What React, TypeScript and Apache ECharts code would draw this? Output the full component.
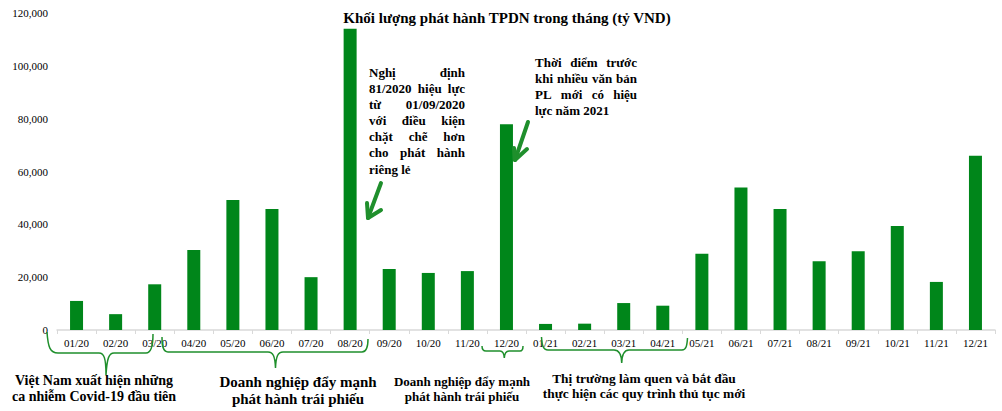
import React, { useEffect, useRef } from "react";
import * as echarts from "echarts";

const categories = [
  "01/20", "02/20", "03/20", "04/20", "05/20", "06/20", "07/20", "08/20", "09/20", "10/20", "11/20", "12/20",
  "01/21", "02/21", "03/21", "04/21", "05/21", "06/21", "07/21", "08/21", "09/21", "10/21", "11/21", "12/21",
];
const issuance = [
  11000, 6000, 17300, 30300, 49200, 45800, 20000, 114000, 23100, 21600, 22300, 77900,
  2300, 2400, 10200, 9200, 28900, 53900, 45800, 26000, 29800, 39400, 18200, 66000,
];
const yMin = 0;
const yMax = 120000;
const yInterval = 20000;

const titleText = "Khối lượng phát hành TPDN trong tháng (tỷ VND)";
const note1Lines = [
  "Nghị định",
  "81/2020 hiệu lực",
  "từ 01/09/2020",
  "với điều kiện",
  "chặt chẽ hơn",
  "cho phát hành",
  "riêng lẻ",
];
const note2Lines = ["Thời điểm trước", "khi nhiều văn bản", "PL mới có hiệu", "lực năm 2021"];
const bottom1 = ["Việt Nam xuất hiện những", "ca nhiễm Covid-19 đầu tiên"];
const bottom2 = ["Doanh nghiệp đẩy mạnh", "phát hành trái phiếu"];
const bottom3 = ["Doanh nghiệp đẩy mạnh", "phát hành trái phiếu"];
const bottom4 = ["Thị trường làm quen và bắt đầu", "thực hiện các quy trình thủ tục mới"];

const SERIF = "Liberation Serif";
const GREEN = "#00861a";
const LINE_GREEN = "#1f8f2c";

const braces: string[] = [
  "M47,332 C48,347 50,353 58,353 L99,353 C104,353 106,358 106,375 C107,358 109,353 114,353 L146,353 C151,353 153,347 153,334",
  "M162,337 C162,346 163,352 168,352 L268,352 C273,352 275,356 275.5,368 C276,356 278,352 283,352 L362,352 C366,352 368,348 368,339",
  "M482,346 C482,349 483,351 486,351 L500,351 C503,351 504,353 504.3,358 C504.6,353 506,351 509,351 L520,351 C522,351 523,349 523,346",
  "M541.5,337 C542,345 543,350 548,350 L614,350 C619,350 621.5,354 621.7,363 C622,354 624,350 629,350 L682,350 C686,350 687,346 687.5,338",
];

let registered = false;
function registerBraces() {
  if (registered) return;
  registered = true;
  braces.forEach((d, i) => {
    echarts.graphic.registerShape("brace" + i, (echarts.graphic as any).extendPath(d, {}));
  });
}

function measure(text: string, font: string): number {
  const c = document.createElement("canvas");
  const ctx = c.getContext("2d");
  if (!ctx) return text.length * 6;
  ctx.font = font;
  return ctx.measureText(text).width;
}

function textStyle(text: string, size: number, align: string) {
  return {
    text,
    fontSize: size,
    fontWeight: "bold",
    fontFamily: SERIF,
    fill: "#000",
    textAlign: align,
    align,
    textVerticalAlign: "middle",
    verticalAlign: "middle",
  };
}

function justified(lines: string[], left: number, right: number, top: number, step: number, size: number) {
  const font = `bold ${size}px "${SERIF}"`;
  const els: any[] = [];
  lines.forEach((line, li) => {
    const y = top + li * step;
    const words = line.split(" ");
    const last = li === lines.length - 1;
    if (last || words.length < 2) {
      els.push({ type: "text", x: left, y, z: 10, style: textStyle(line, size, "left") });
      return;
    }
    const widths = words.map((w) => measure(w, font));
    const total = widths.reduce((a, b) => a + b, 0);
    const gap = (right - left - total) / (words.length - 1);
    let x = left;
    words.forEach((w, wi) => {
      els.push({ type: "text", x, y, z: 10, style: textStyle(w, size, "left") });
      x += widths[wi] + gap;
    });
  });
  return els;
}

function centered(lines: string[], cx: number, top: number, step: number, size: number) {
  return lines.map((line, i) => ({
    type: "text", x: cx, y: top + i * step, z: 10,
    style: textStyle(line, size, "center"),
  }));
}

export default function App() {
  const ref = useRef<HTMLDivElement>(null);
  useEffect(() => {
    if (!ref.current) return;
    registerBraces();
    const chart = echarts.init(ref.current, undefined, { renderer: "svg" });
    const arrowStyle = { stroke: LINE_GREEN, lineWidth: 4, lineCap: "round", lineJoin: "round", fill: null };
    const graphics: any[] = [
      { type: "text", x: 507, y: 18, z: 10, style: textStyle(titleText, 15, "center") },
      ...justified(note1Lines, 369, 465, 72.7, 16.05, 13),
      ...justified(note2Lines, 535, 637, 62.3, 16, 13),
      ...centered(bottom1, 94, 380, 16.5, 14),
      ...centered(bottom2, 298, 381.5, 17, 15),
      ...centered(bottom3, 462, 381, 15.5, 13),
      ...centered(bottom4, 644, 378, 15.5, 13.4),
      { type: "polyline", z: 10, shape: { points: [[381, 183], [368, 218]] }, style: arrowStyle },
      { type: "polyline", z: 10, shape: { points: [[367, 203], [368, 218], [381, 210]] }, style: arrowStyle },
      { type: "polyline", z: 10, shape: { points: [[528, 122], [515, 160]] }, style: arrowStyle },
      { type: "polyline", z: 10, shape: { points: [[514, 148], [515, 160], [527, 149]] }, style: arrowStyle },
      ...braces.map((_, i) => ({
        type: "brace" + i, x: 0, y: 0, z: 10,
        style: { stroke: LINE_GREEN, lineWidth: 1.5, fill: null },
      })),
    ];
    chart.setOption({
      animation: false,
      backgroundColor: "#ffffff",
      textStyle: { fontFamily: SERIF },
      grid: { left: 57, right: 7, top: 13, bottom: 81 },
      xAxis: {
        type: "category",
        data: categories,
        boundaryGap: true,
        axisLine: { lineStyle: { color: "#d9d9d9", width: 1.5 } },
        axisTick: { show: true, length: 4, lineStyle: { color: "#d9d9d9" } },
        axisLabel: { color: "#000", fontFamily: SERIF, fontSize: 11, margin: 7, interval: 0 },
      },
      yAxis: {
        type: "value",
        min: yMin,
        max: yMax,
        interval: yInterval,
        axisLine: { show: false },
        axisTick: { show: false },
        splitLine: { show: false },
        axisLabel: {
          color: "#000", fontFamily: SERIF, fontSize: 11, margin: 9,
          formatter: (v: number) => v.toLocaleString("en-US"),
        },
      },
      series: [
        {
          type: "bar",
          data: issuance,
          barWidth: 13,
          itemStyle: { color: GREEN },
        },
      ],
      graphic: graphics,
    });
    return () => chart.dispose();
  }, []);
  return <div ref={ref} style={{ position: "absolute", left: 0, top: 0, width: 1002, height: 411, background: "#fff" }} />;
}
